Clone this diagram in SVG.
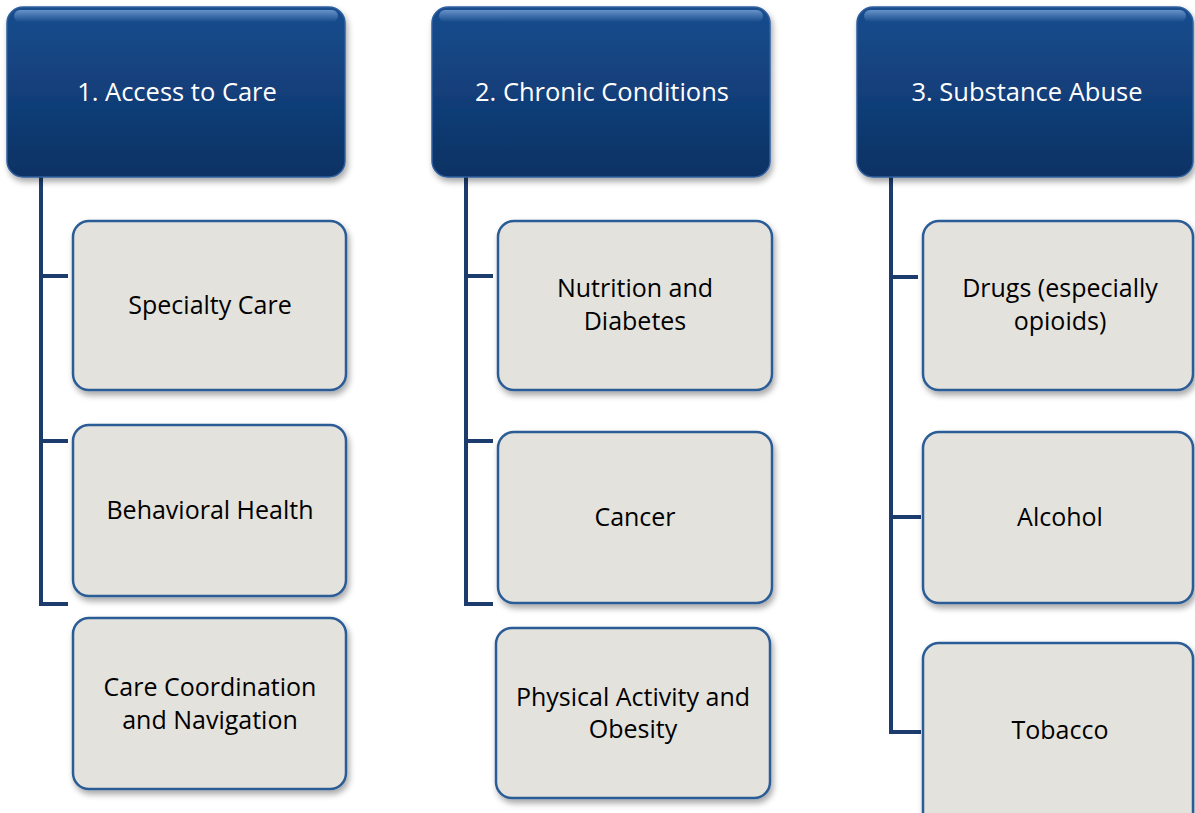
<svg xmlns="http://www.w3.org/2000/svg" width="1195" height="813" viewBox="0 0 1195 813">
<defs>
<linearGradient id="hg" x1="0" y1="0" x2="0" y2="1">
<stop offset="0" stop-color="#1a4d8e"/>
<stop offset="0.5" stop-color="#123f7a"/>
<stop offset="1" stop-color="#0d3264"/>
</linearGradient>
<linearGradient id="hl" x1="0" y1="0" x2="0" y2="1">
<stop offset="0" stop-color="#6f9ad0" stop-opacity="0.9"/>
<stop offset="1" stop-color="#6f9ad0" stop-opacity="0"/>
</linearGradient>
<filter id="sh" x="-10%" y="-10%" width="125%" height="125%">
<feGaussianBlur in="SourceAlpha" stdDeviation="3"/>
<feOffset dx="2" dy="4" result="b"/>
<feComponentTransfer><feFuncA type="linear" slope="0.35"/></feComponentTransfer>
<feMerge><feMergeNode/><feMergeNode in="SourceGraphic"/></feMerge>
</filter>
</defs>
<style>
.hdr{fill:url(#hg);stroke:#2f5f9f;stroke-width:1.5;filter:url(#sh)}
.hlt{fill:url(#hl);stroke:none}
.box{fill:#e4e2dc;stroke:#2c5b95;stroke-width:2.5;filter:url(#sh)}
.ht{font-family:"Open Sans","Liberation Sans",sans-serif;font-size:25.5px;fill:#ffffff;text-anchor:middle}
.bt{font-family:"Open Sans","Liberation Sans",sans-serif;font-size:25px;fill:#000000;text-anchor:middle}
.cn{fill:none;stroke:#1b3c6c;stroke-width:4;stroke-linejoin:miter}
</style>
<g id="connectors">
<path class="cn" d="M41,177 V604 H68 M41,276 H68 M41,441 H68"/>
<path class="cn" d="M466,177 V604 H493 M466,276 H493 M466,441 H493"/>
<path class="cn" d="M891,177 V732 H921 M891,277 H918 M891,517 H921"/>
</g>
<g id="h1">
<rect class="hdr" x="7" y="7" width="338" height="170" rx="16"/>
<rect class="hlt" x="14" y="10" width="324" height="12" rx="6"/>
<text class="ht" x="177" y="101">1. Access to Care</text>
</g>
<g id="h2">
<rect class="hdr" x="432" y="7" width="338" height="170" rx="16"/>
<rect class="hlt" x="439" y="10" width="324" height="12" rx="6"/>
<text class="ht" x="602" y="101">2. Chronic Conditions</text>
</g>
<g id="h3">
<rect class="hdr" x="857" y="7" width="336" height="170" rx="16"/>
<rect class="hlt" x="864" y="10" width="322" height="12" rx="6"/>
<text class="ht" x="1027" y="101">3. Substance Abuse</text>
</g>
<g id="c1a">
<rect class="box" x="73" y="221" width="273" height="169" rx="16"/>
<text class="bt" x="210" y="314">Specialty Care</text>
</g>
<g id="c1b">
<rect class="box" x="73" y="425" width="273" height="171" rx="16"/>
<text class="bt" x="210" y="519">Behavioral Health</text>
</g>
<g id="c1c">
<rect class="box" x="73" y="618" width="273" height="171" rx="16"/>
<text class="bt" x="210" y="696">Care Coordination</text>
<text class="bt" x="210" y="729">and Navigation</text>
</g>
<g id="c2a">
<rect class="box" x="498" y="221" width="274" height="169" rx="16"/>
<text class="bt" x="635" y="297">Nutrition and</text>
<text class="bt" x="635" y="330">Diabetes</text>
</g>
<g id="c2b">
<rect class="box" x="498" y="432" width="274" height="171" rx="16"/>
<text class="bt" x="635" y="526">Cancer</text>
</g>
<g id="c2c">
<rect class="box" x="496" y="628" width="274" height="170" rx="16"/>
<text class="bt" x="633" y="706">Physical Activity and</text>
<text class="bt" x="633" y="738">Obesity</text>
</g>
<g id="c3a">
<rect class="box" x="923" y="221" width="270" height="169" rx="16"/>
<text class="bt" x="1060" y="297">Drugs (especially</text>
<text class="bt" x="1060" y="330">opioids)</text>
</g>
<g id="c3b">
<rect class="box" x="923" y="432" width="270" height="171" rx="16"/>
<text class="bt" x="1060" y="526">Alcohol</text>
</g>
<g id="c3c">
<rect class="box" x="923" y="643" width="270" height="190" rx="16"/>
<text class="bt" x="1060" y="739">Tobacco</text>
</g>
</svg>
